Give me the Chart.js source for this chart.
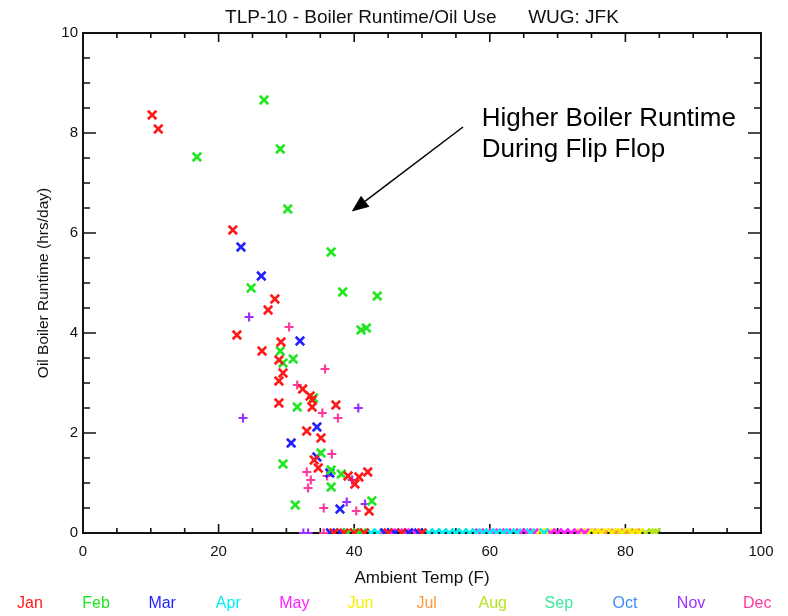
<!DOCTYPE html>
<html>
<head>
<meta charset="utf-8">
<script src="https://cdn.jsdelivr.net/npm/chart.js@4.4.1/dist/chart.umd.min.js"></script>
<style>
  html, body { margin: 0; padding: 0; background: #ffffff; }
  #wrap { width: 788px; height: 616px; }
</style>
</head>
<body>
<div id="wrap"><canvas id="c" width="788" height="616"></canvas></div>
<script>
// ---------- data ----------
const chartTitle = 'TLP-10 - Boiler Runtime/Oil Use      WUG: JFK';
const xAxisTitle = 'Ambient Temp (F)';
const yAxisTitle = 'Oil Boiler Runtime (hrs/day)';
const months = ['Jan', 'Feb', 'Mar', 'Apr', 'May', 'Jun', 'Jul', 'Aug', 'Sep', 'Oct', 'Nov', 'Dec'];

const xTickLabels = [0, 20, 40, 60, 80, 100];
const xTickMarks = [0, 5, 10, 15, 20, 25, 30, 35, 40, 45, 50, 55, 60, 65, 70, 75, 80, 85, 90, 95, 100];
const yTickLabels = [0, 2, 4, 6, 8, 10];
const yTickMarks = [0, 0.5, 1, 1.5, 2, 2.5, 3, 3.5, 4, 4.5, 5, 5.5, 6, 6.5, 7, 7.5, 8, 8.5, 9, 9.5, 10];

// temperature (F) and runtime (hrs/day) per month
const janTemp    = [10.2, 11.1, 22.1, 22.7, 26.4, 27.3, 28.3, 29.2, 28.9, 29.5, 28.9, 32.4, 33.5, 33.8, 33.8, 28.9, 37.3, 33.0, 35.1, 34.1, 34.7, 39.1, 40.7, 42.0, 40.1, 42.2, 37.0, 38.5, 40.0, 41.5, 45.0, 47.0, 50.0];
const janRuntime = [8.36, 8.08, 6.06, 3.96, 3.64, 4.46, 4.68, 3.82, 3.46, 3.20, 3.04, 2.88, 2.74, 2.66, 2.52, 2.60, 2.56, 2.04, 1.90, 1.46, 1.30, 1.14, 1.12, 1.22, 0.98, 0.44, 0, 0, 0, 0, 0, 0, 0];

const febTemp    = [26.7, 29.1, 16.8, 30.2, 36.6, 24.8, 38.3, 43.4, 41.0, 41.8, 29.1, 31.0, 29.5, 34.0, 31.6, 35.1, 29.5, 36.6, 38.1, 36.6, 31.3, 42.6, 39.0, 40.5, 41.2];
const febRuntime = [8.66, 7.68, 7.52, 6.48, 5.62, 4.90, 4.82, 4.74, 4.06, 4.10, 3.64, 3.48, 3.40, 2.70, 2.52, 1.60, 1.38, 1.26, 1.18, 0.92, 0.56, 0.64, 0, 0, 0];

const marTemp    = [23.3, 26.3, 32.0, 34.5, 30.7, 34.5, 36.4, 37.9, 36.5, 38.0, 44.5, 46.0, 48.0, 49.5];
const marRuntime = [5.72, 5.14, 3.84, 2.12, 1.80, 1.52, 1.20, 0.48, 0, 0, 0, 0, 0, 0];

const aprTemp    = [42.5, 43.5, 51.0, 52.0, 53.0, 54.0, 55.0, 56.0, 57.0, 58.0, 59.0, 60.0, 61.0, 62.0, 63.0, 64.0, 66.0, 68.0];
const aprRuntime = [0, 0, 0, 0, 0, 0, 0, 0, 0, 0, 0, 0, 0, 0, 0, 0, 0, 0];

const mayTemp    = [45.5, 47.5, 49.0, 58.5, 60.5, 62.5, 64.5, 65.5, 66.5, 69.0, 70.0, 71.0, 72.0, 73.0, 74.0];
const mayRuntime = [0, 0, 0, 0, 0, 0, 0, 0, 0, 0, 0, 0, 0, 0, 0];

const junTemp    = [67.0, 67.8, 68.5, 73.5, 74.5, 75.5, 76.5, 78.0, 79.5, 81.0, 82.0];
const junRuntime = [0, 0, 0, 0, 0, 0, 0, 0, 0, 0, 0];

const julTemp    = [76.0, 77.0, 78.5, 80.0, 81.5];
const julRuntime = [0, 0, 0, 0, 0];

const augTemp    = [79.0, 80.5, 82.0, 83.0, 84.0, 84.5];
const augRuntime = [0, 0, 0, 0, 0, 0];

const sepTemp    = [55.0, 62.0];
const sepRuntime = [0, 0];

const octTemp    = [48.0, 52.0];
const octRuntime = [0, 0];

const novTemp    = [24.5, 23.6, 40.6, 39.7, 38.9, 41.6, 32.5, 33.2];
const novRuntime = [4.32, 2.30, 2.50, 1.06, 0.62, 0.58, 0, 0];

const decTemp    = [30.4, 35.7, 31.6, 35.3, 37.6, 36.7, 33.0, 36.0, 33.6, 33.2, 35.5, 40.3, 35.5, 44.0];
const decRuntime = [4.12, 3.28, 2.96, 2.40, 2.30, 1.58, 1.22, 1.14, 1.06, 0.90, 0.50, 0.44, 0, 0];

const noteLines = ['Higher Boiler Runtime', 'During Flip Flop'];

// ---------- styles ----------
const monthColors = ['#ff1a1a', '#22e622', '#2222ff', '#00f0f0', '#ff20ff', '#f5f000', '#ff9a3c', '#b5e61d', '#3ce89a', '#3d8bff', '#9b30ff', '#ff3c9e'];
const monthMarkers = ['crossRot', 'crossRot', 'crossRot', 'crossRot', 'crossRot', 'crossRot', 'crossRot', 'crossRot', 'crossRot', 'crossRot', 'cross', 'cross'];
const allTemps = [janTemp, febTemp, marTemp, aprTemp, mayTemp, junTemp, julTemp, augTemp, sepTemp, octTemp, novTemp, decTemp];
const allRuntimes = [janRuntime, febRuntime, marRuntime, aprRuntime, mayRuntime, junRuntime, julRuntime, augRuntime, sepRuntime, octRuntime, novRuntime, decRuntime];

const SANS = "'Liberation Sans', Arial, sans-serif";

const datasets = months.map((m, i) => ({
  label: m,
  data: allTemps[i].map((t, k) => ({ x: t, y: allRuntimes[i][k] })),
  borderColor: monthColors[i],
  backgroundColor: monthColors[i],
  pointStyle: monthMarkers[i],
  pointRadius: monthMarkers[i] === 'cross' ? 4.5 : 6,
  pointBorderWidth: monthMarkers[i] === 'cross' ? 2.2 : 2.6,
  pointHoverRadius: 6,
  clip: { left: 8, right: 8, top: 8, bottom: 1 }
}));

// ---------- plugins ----------
const framePlugin = {
  id: 'frame',
  beforeDatasetsDraw(chart, args, o) {
    const { ctx, chartArea: a, scales: { x, y } } = chart;
    ctx.save();
    ctx.strokeStyle = o.color;
    ctx.lineWidth = o.tickWidth;
    ctx.beginPath();
    xTickMarks.forEach(v => {
      const px = x.getPixelForValue(v);
      const len = xTickLabels.includes(v) ? o.xMajor : o.xMinor;
      ctx.moveTo(px, a.bottom); ctx.lineTo(px, a.bottom - len);
      ctx.moveTo(px, a.top); ctx.lineTo(px, a.top + len);
    });
    yTickMarks.forEach(v => {
      const py = y.getPixelForValue(v);
      const len = yTickLabels.includes(v) ? o.yMajor : o.yMinor;
      ctx.moveTo(a.left, py); ctx.lineTo(a.left + len, py);
      ctx.moveTo(a.right, py); ctx.lineTo(a.right - len, py);
    });
    ctx.stroke();
    ctx.lineWidth = o.lineWidth;
    ctx.strokeRect(a.left, a.top, a.right - a.left, a.bottom - a.top);
    ctx.restore();
  }
};

const notePlugin = {
  id: 'note',
  afterDraw(chart, args, o) {
    const { ctx, scales: { x, y } } = chart;
    ctx.save();
    ctx.fillStyle = o.color;
    ctx.font = o.font;
    ctx.textAlign = 'left';
    ctx.textBaseline = 'alphabetic';
    const tx = x.getPixelForValue(o.textAt.x);
    const ty = y.getPixelForValue(o.textAt.y);
    noteLines.forEach((line, i) => ctx.fillText(line, tx, ty + i * o.lineGap));
    const x0 = x.getPixelForValue(o.from.x), y0 = y.getPixelForValue(o.from.y);
    const x1 = x.getPixelForValue(o.to.x), y1 = y.getPixelForValue(o.to.y);
    const ang = Math.atan2(y1 - y0, x1 - x0);
    const bx = x1 - o.head * Math.cos(ang), by = y1 - o.head * Math.sin(ang);
    ctx.strokeStyle = o.color;
    ctx.lineWidth = o.lineWidth;
    ctx.beginPath(); ctx.moveTo(x0, y0); ctx.lineTo(bx, by); ctx.stroke();
    ctx.beginPath();
    ctx.moveTo(x1, y1);
    ctx.lineTo(bx + o.half * Math.sin(ang), by - o.half * Math.cos(ang));
    ctx.lineTo(bx - o.half * Math.sin(ang), by + o.half * Math.cos(ang));
    ctx.closePath(); ctx.fill();
    ctx.restore();
  }
};

const monthLegendPlugin = {
  id: 'monthLegend',
  afterDraw(chart, args, o) {
    const { ctx, width } = chart;
    ctx.save();
    ctx.font = o.font;
    ctx.textAlign = 'center';
    ctx.textBaseline = 'middle';
    chart.data.datasets.forEach((ds, i) => {
      ctx.fillStyle = ds.borderColor;
      ctx.fillText(ds.label, width * (o.start + i * o.step), o.y);
    });
    ctx.restore();
  }
};

// ---------- chart ----------
new Chart(document.getElementById('c'), {
  type: 'scatter',
  data: { datasets },
  plugins: [framePlugin, notePlugin, monthLegendPlugin],
  options: {
    responsive: false,
    animation: false,
    devicePixelRatio: 1,
    layout: { padding: { left: 0, right: 27, top: 0, bottom: 23 } },
    plugins: {
      legend: { display: false },
      tooltip: { enabled: false },
      title: {
        display: true,
        fullSize: false,
        text: chartTitle,
        color: '#111',
        font: { family: SANS, size: 19, weight: 'normal', lineHeight: 1.2 },
        padding: { top: 6, bottom: 4.2 }
      },
      frame: { color: '#111', lineWidth: 2, tickWidth: 1.6, xMajor: 9, xMinor: 5, yMajor: 13, yMinor: 7 },
      note: {
        color: '#000', font: "26px 'Liberation Sans', Arial, sans-serif",
        textAt: { x: 58.8, y: 8.14 }, lineGap: 31,
        from: { x: 56.05, y: 8.12 }, to: { x: 39.63, y: 6.43 },
        lineWidth: 1.5, head: 17, half: 7
      },
      monthLegend: { font: "16px " + SANS, start: 0.038, step: 0.0839, y: 604 }
    },
    scales: {
      x: {
        type: 'linear', min: 0, max: 100,
        grid: { display: false, drawTicks: false },
        border: { display: false },
        ticks: { stepSize: 20, padding: 10, maxRotation: 0, color: '#111', font: { family: SANS, size: 15 } },
        title: { display: true, text: xAxisTitle, color: '#111', font: { family: SANS, size: 17 }, padding: { top: 0, bottom: 4 } },
        afterFit(s) { s.height = 60; }
      },
      y: {
        type: 'linear', min: 0, max: 10,
        grid: { display: false, drawTicks: false },
        border: { display: false },
        ticks: { stepSize: 2, padding: 5, color: '#111', font: { family: SANS, size: 15 } },
        title: { display: true, text: yAxisTitle, color: '#111', font: { family: SANS, size: 15.5 }, padding: { top: 34, bottom: 0 } },
        afterFit(s) { s.width = 83; }
      }
    }
  }
});
</script>
</body>
</html>
